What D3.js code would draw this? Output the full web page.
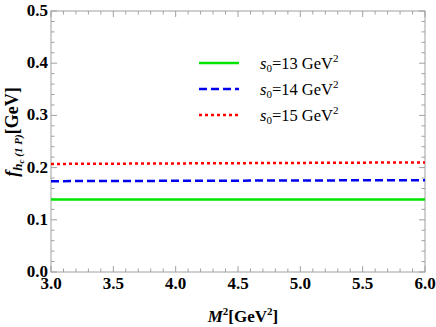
<!DOCTYPE html>
<html>
<head>
<meta charset="utf-8">
<script src="https://cdn.jsdelivr.net/npm/d3@7"></script>
<style>
  body { margin: 0; background: #fff; }
</style>
</head>
<body>
<svg id="chart" width="436" height="327"></svg>
<script>
// M^2 values (GeV^2) and decay constant for each s0
const m2 = [3.0, 6.0]
const f13 = [0.139, 0.139]
const f14 = [0.174, 0.176]
const f15 = [0.207, 0.210]
const xTicks = [3.0, 3.5, 4.0, 4.5, 5.0, 5.5, 6.0]
const yTicks = [0.0, 0.1, 0.2, 0.3, 0.4, 0.5]
const legendLabels = ['13', '14', '15']

const margin = { top: 11, right: 11, bottom: 55, left: 51 }
const width = 436, height = 327
const serif = '"Liberation Serif"'

const svg = d3.select('#chart')

const x = d3.scaleLinear().domain([3, 6]).range([margin.left, width - margin.right])
const y = d3.scaleLinear().domain([0, 0.5]).range([height - margin.bottom, margin.top])

const frameColor = '#a0a0a0'

// frame
svg.append('rect')
  .attr('x', x(3)).attr('y', y(0.5))
  .attr('width', x(6) - x(3)).attr('height', y(0) - y(0.5))
  .attr('fill', 'none').attr('stroke', frameColor).attr('stroke-width', 1)

// ticks (inward, on all four sides)
let xMinor = d3.range(3, 6.0001, 0.1)
let yMinor = d3.range(0, 0.5001, 0.02)

let tickG = svg.append('g').attr('stroke', frameColor).attr('stroke-width', 1)
xMinor.forEach(v => {
  let major = Math.abs(v * 2 - Math.round(v * 2)) < 1e-6
  let len = major ? 6 : 3.5
  tickG.append('line').attr('x1', x(v)).attr('x2', x(v)).attr('y1', y(0)).attr('y2', y(0) - len)
  tickG.append('line').attr('x1', x(v)).attr('x2', x(v)).attr('y1', y(0.5)).attr('y2', y(0.5) + len)
})
yMinor.forEach(v => {
  let major = Math.abs(v * 10 - Math.round(v * 10)) < 1e-6
  let len = major ? 6 : 3.5
  tickG.append('line').attr('y1', y(v)).attr('y2', y(v)).attr('x1', x(3)).attr('x2', x(3) + len)
  tickG.append('line').attr('y1', y(v)).attr('y2', y(v)).attr('x1', x(6)).attr('x2', x(6) - len)
})

// tick labels
svg.append('g').selectAll('text').data(xTicks).join('text')
  .attr('x', d => x(d)).attr('y', y(0) + 17)
  .attr('text-anchor', 'middle')
  .style('font-family', serif)
  .attr('font-size', 17).attr('font-weight', 'bold')
  .text(d => d.toFixed(1))

svg.append('g').selectAll('text').data(yTicks).join('text')
  .attr('x', x(3) - 3).attr('y', d => y(d) + 5)
  .attr('text-anchor', 'end')
  .style('font-family', serif)
  .attr('font-size', 17).attr('font-weight', 'bold')
  .text(d => d.toFixed(1))

// axis titles
let xt = svg.append('text')
  .attr('x', (x(3) + x(6)) / 2 + 5).attr('y', 322)
  .style('font-family', serif)
  .attr('text-anchor', 'middle').attr('font-size', 17).attr('font-weight', 'bold')
xt.append('tspan').attr('font-style', 'italic').text('M')
xt.append('tspan').attr('font-size', 11).attr('dy', -7).text('2')
xt.append('tspan').attr('dy', 7).text('[GeV')
xt.append('tspan').attr('font-size', 11).attr('dy', -7).text('2')
xt.append('tspan').attr('dy', 7).text(']')

let yt = svg.append('text')
  .attr('transform', `translate(18, 132) rotate(-90)`)
  .style('font-family', serif)
  .attr('text-anchor', 'middle').attr('font-size', 18).attr('font-weight', 'bold')
yt.append('tspan').attr('font-style', 'italic').text('f')
yt.append('tspan').attr('font-style', 'italic').attr('font-size', 13).attr('dy', 4).text('h')
yt.append('tspan').attr('font-style', 'italic').attr('font-size', 9).attr('dy', 2).text('c')
yt.append('tspan').attr('font-style', 'italic').attr('font-size', 11).attr('dy', -2).text(' (1 P)')
yt.append('tspan').attr('dy', -4).text('[GeV]')

// series
const series = [
  { values: f13, color: '#00e600', dash: null, width: 2.5 },
  { values: f14, color: '#0000ee', dash: '8,4', width: 2.5 },
  { values: f15, color: '#ff0000', dash: '3,3', width: 2.5 }
]

const line = d3.line().x((d, i) => x(m2[i])).y(d => y(d))

svg.append('clipPath').attr('id', 'clip').append('rect')
  .attr('x', x(3)).attr('y', y(0.5)).attr('width', x(6) - x(3)).attr('height', y(0) - y(0.5))

svg.append('g').attr('clip-path', 'url(#clip)')
  .selectAll('path').data(series).join('path')
  .attr('d', d => line(d.values))
  .attr('fill', 'none')
  .attr('stroke', d => d.color)
  .attr('stroke-width', d => d.width)
  .attr('stroke-dasharray', d => d.dash)

// legend
let legend = svg.append('g')
series.forEach((s, i) => {
  let ly = 63 + i * 26
  legend.append('line')
    .attr('x1', 199).attr('x2', 239).attr('y1', ly).attr('y2', ly)
    .attr('stroke', s.color).attr('stroke-width', s.width)
    .attr('stroke-dasharray', s.dash)
  let t = legend.append('text').attr('x', 260).attr('y', ly + 6)
    .style('font-family', serif).attr('font-size', 16.5)
  t.append('tspan').attr('font-style', 'italic').text('s')
  t.append('tspan').attr('font-size', 11).attr('dy', 3).text('0')
  t.append('tspan').attr('dy', -3).text(`=${ legendLabels[i] } GeV`)
  t.append('tspan').attr('font-size', 11).attr('dy', -7).text('2')
})
</script>
</body>
</html>
